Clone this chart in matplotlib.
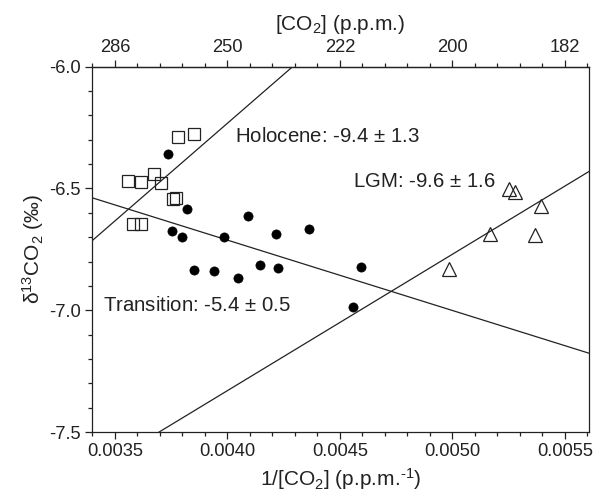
import matplotlib
matplotlib.use("Agg")
import matplotlib.pyplot as plt
import numpy as np

plt.rcParams['font.family'] = ['Liberation Sans', 'DejaVu Sans']
plt.rcParams['mathtext.fontset'] = 'custom'
plt.rcParams['mathtext.rm'] = 'Liberation Sans'
plt.rcParams['mathtext.it'] = 'Liberation Sans:italic'
plt.rcParams['mathtext.bf'] = 'Liberation Sans:bold'

# ---- data ----
holo_x = [0.003559, 0.003616, 0.003673, 0.003706, 0.003756, 0.003771,
          0.003781, 0.003852, 0.003579, 0.003616]
holo_y = [-6.470, -6.472, -6.441, -6.478, -6.545, -6.540,
          -6.288, -6.275, -6.647, -6.647]

trans_x = [0.003734, 0.003819, 0.003752, 0.003796, 0.003984, 0.004093,
           0.004214, 0.004364, 0.003850, 0.003941, 0.004047, 0.004146,
           0.004223, 0.004592, 0.004558]
trans_y = [-6.360, -6.585, -6.675, -6.700, -6.699, -6.615,
           -6.688, -6.667, -6.836, -6.837, -6.866, -6.814,
           -6.826, -6.822, -6.988]

lgm_x = [0.005253, 0.005278, 0.005392, 0.005167, 0.005368, 0.004983]
lgm_y = [-6.502, -6.516, -6.570, -6.688, -6.693, -6.829]

# regression lines: (intercept, slope)
fit_intercepts = [-9.44, -5.556, -9.57]
fit_slopes = [802.0, -289.0, 560.0]

labels = ["Holocene: -9.4 $\\pm$ 1.3", "Transition: -5.4 $\\pm$ 0.5", "LGM: -9.6 $\\pm$ 1.6"]
label_pos = [(0.004033, -6.308), (0.003448, -7.003), (0.004559, -6.493)]

bottom_ticks = [0.0035, 0.0040, 0.0045, 0.0050, 0.0055]
bottom_labels = ["0.0035", "0.0040", "0.0045", "0.0050", "0.0055"]
top_labels = ["286", "250", "222", "200", "182"]

# ---- figure ----
fig = plt.figure(figsize=(6.03, 4.98), dpi=100)
ax = fig.add_axes([0.1526, 0.1325, 0.9768 - 0.1526, 0.866 - 0.1325])

xlim = (0.003398, 0.005607)
ylim = (-7.5, -6.0)
ax.set_xlim(*xlim)
ax.set_ylim(*ylim)

ink = '#222222'
xs = np.array(xlim)
for b0, b1 in zip(fit_intercepts, fit_slopes):
    ax.plot(xs, b0 + b1 * xs, color=ink, lw=0.9, zorder=2)

ax.plot(holo_x, holo_y, 's', ms=8.8, mfc='none', mec=ink, mew=0.9, zorder=3)
ax.plot(trans_x, trans_y, 'o', ms=6.6, mfc='black', mec='black', mew=0.5, zorder=3)
ax.plot(lgm_x, lgm_y, '^', ms=9.5, mfc='none', mec=ink, mew=0.9, zorder=3)

for txt, (tx, ty) in zip(labels, label_pos):
    ax.text(tx, ty, txt, fontsize=14.7, color=ink, ha='left', va='baseline')

ax.set_xticks(bottom_ticks, bottom_labels)
ax.set_xticks(np.arange(0.0034, 0.00561, 0.0001), minor=True)
ax.set_yticks([-7.5, -7.0, -6.5, -6.0], ["-7.5", "-7.0", "-6.5", "-6.0"])
ax.set_yticks(np.arange(-7.5, -5.99, 0.1), minor=True)

for s in ax.spines.values():
    s.set_linewidth(0.9)
    s.set_color(ink)

ax.tick_params(which='major', direction='out', length=5, width=0.9, color=ink,
               labelsize=13.2, labelcolor=ink, pad=3)
ax.tick_params(which='minor', direction='out', length=3, width=0.9, color=ink)
ax.tick_params(right=False, top=False)

sec = ax.secondary_xaxis('top')
sec.set_xticks(bottom_ticks, top_labels)
sec.set_xticks(np.arange(0.0034, 0.00561, 0.0001), minor=True)
sec.tick_params(which='major', direction='out', length=5, width=0.9, color=ink,
                labelsize=13.2, labelcolor=ink, pad=3)
sec.tick_params(which='minor', direction='out', length=3, width=0.9, color=ink)
sec.spines['top'].set_linewidth(0.9)
sec.spines['top'].set_color(ink)
sec.set_xlabel("[CO$_2$] (p.p.m.)", fontsize=15, color=ink, labelpad=6)

ax.set_xlabel("1/[CO$_2$] (p.p.m.$^{\\text{-}1}$)", fontsize=15, color=ink, labelpad=4)
ax.set_ylabel("δ$^{13}$CO$_2$ (‰)", fontsize=15, color=ink, labelpad=2)

fig.savefig("out.png", dpi=100)
